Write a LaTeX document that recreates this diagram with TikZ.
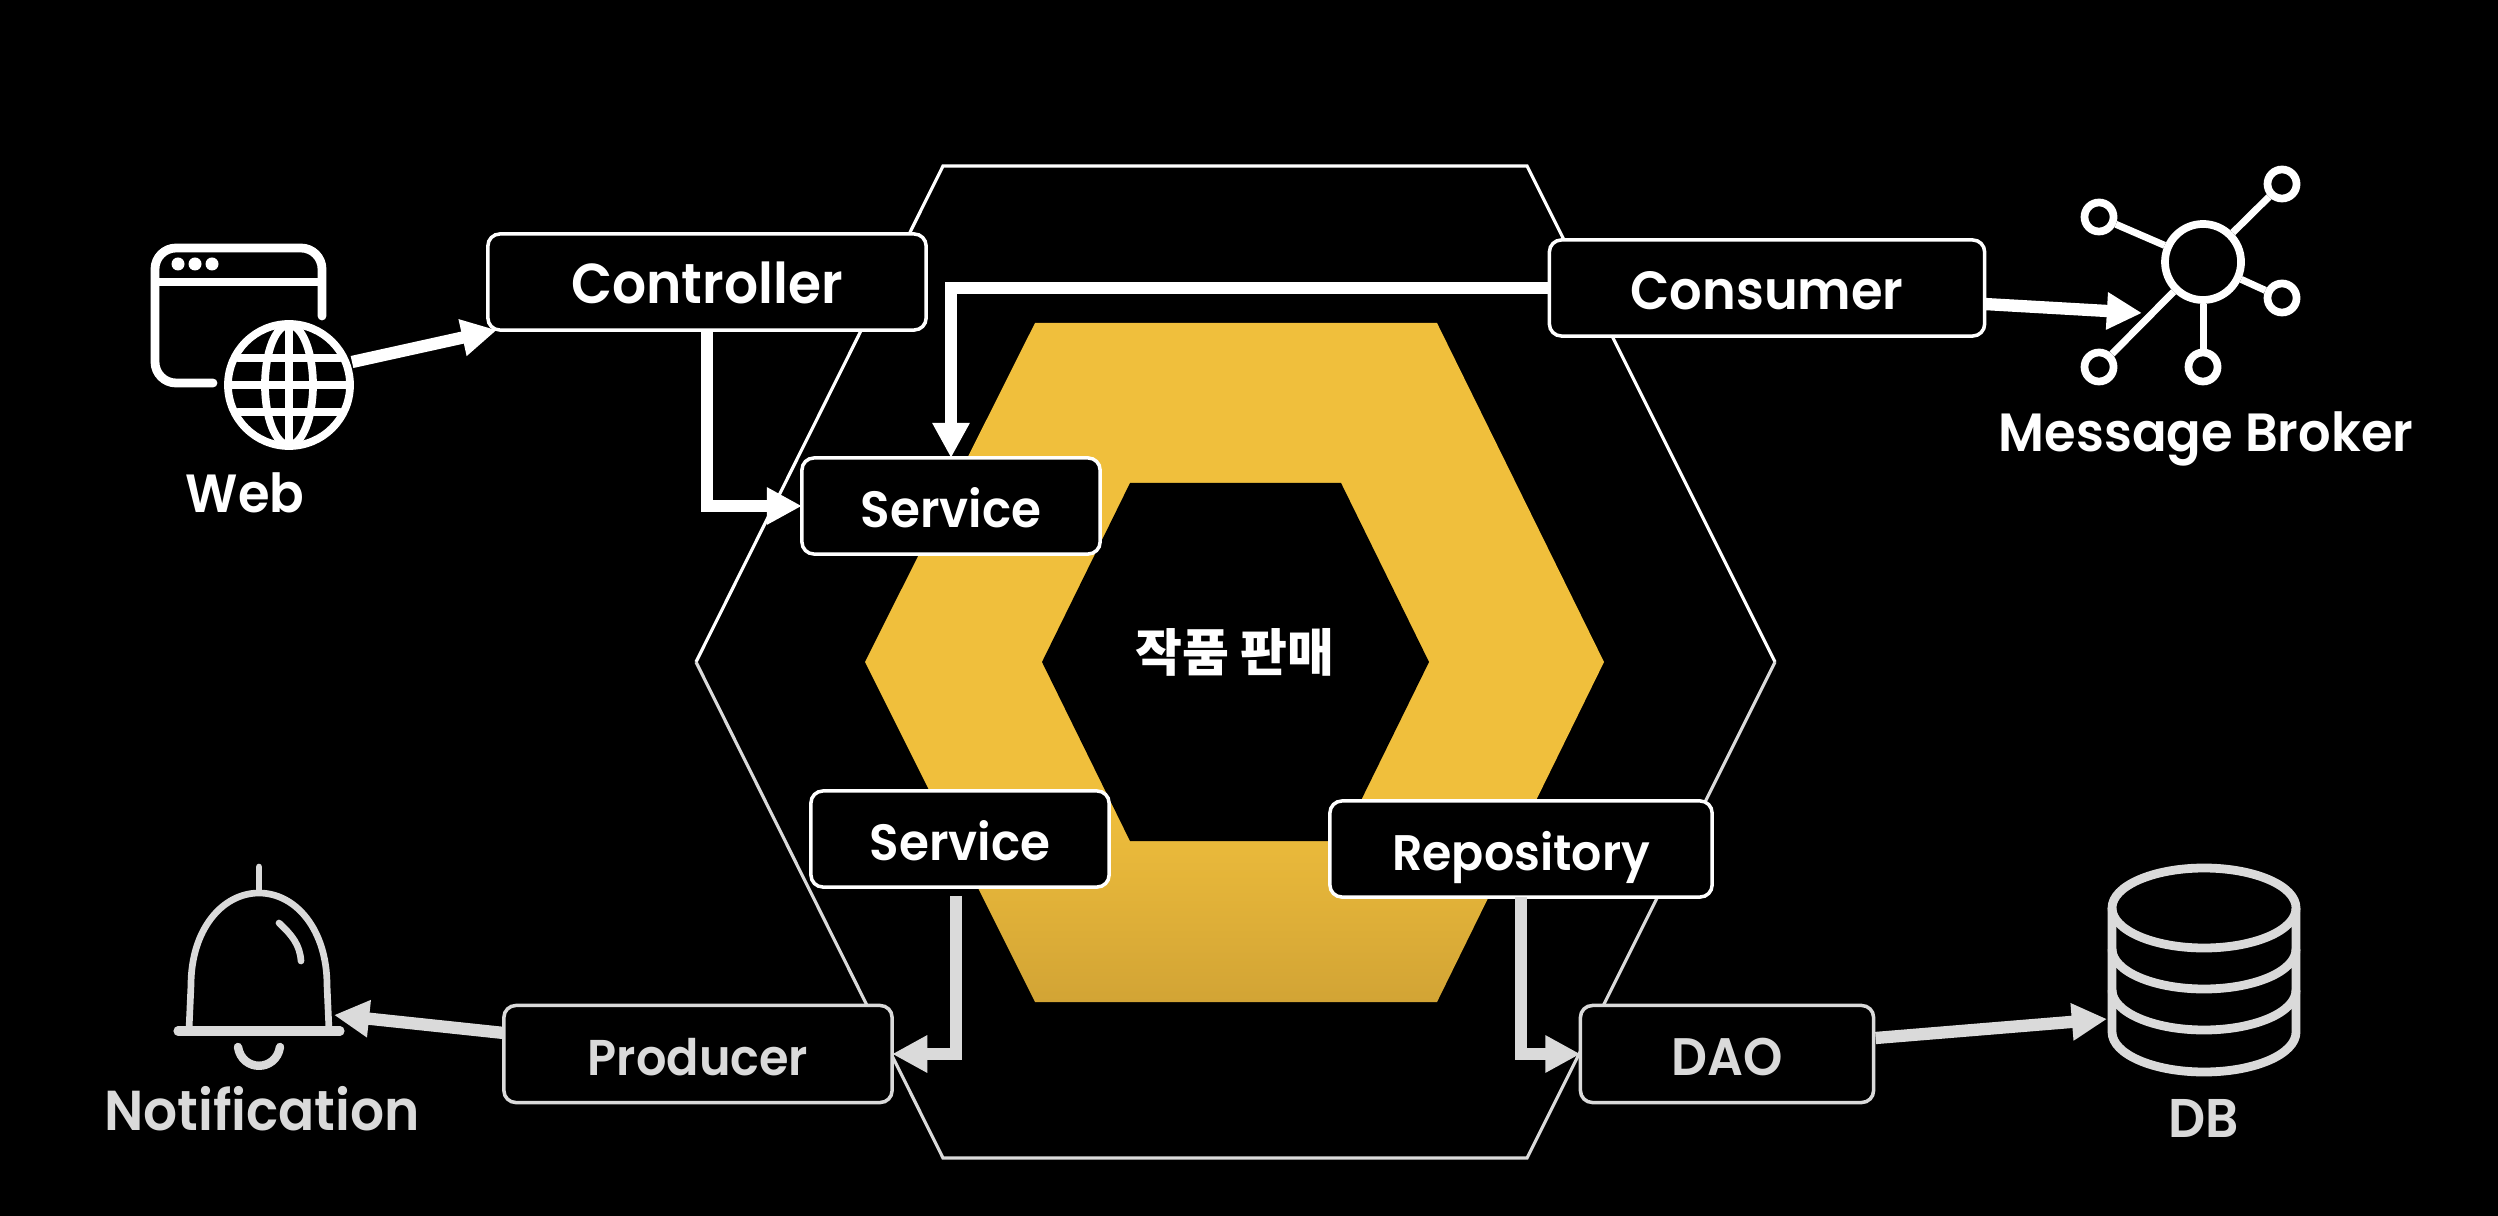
\documentclass[tikz,border=0pt]{standalone}
\usepackage{fontspec}
\usetikzlibrary{arrows.meta,calc}
\setmainfont{Poppins SemiBold}[FakeStretch=0.95]
\newfontfamily\krfont{Noto Sans CJK KR}
\definecolor{hexyellow}{HTML}{F0BF3C}
\definecolor{hexlow}{HTML}{D2A435}
\definecolor{fadegray}{HTML}{DADADA}
\pgfdeclareverticalshading{hexfade}{100bp}{color(0bp)=(hexlow); color(25bp)=(hexlow); color(40bp)=(hexyellow); color(100bp)=(hexyellow)}
\begin{document}
\begin{tikzpicture}[x=0.01cm,y=-0.01cm]
        \tikzstyle{layer}=[rounded corners=3.4pt,draw=white,fill=black,line width=1pt,text=white,inner sep=0pt,outer sep=0pt,text height=4.8mm,text depth=0.5mm]
        \tikzstyle{faded}=[layer,draw=fadegray,text=fadegray]
        \tikzstyle{caption}=[text=white,inner sep=0pt,text height=4.8mm,text depth=0.5mm]
        \tikzstyle{icon}=[draw=white,line width=2.5pt,line cap=round]
        \tikzstyle{flow}=[draw=white,line width=3.5pt,-{Triangle[length=10pt,width=10pt]}]
        \tikzstyle{outline}=[line width=0.9pt]
        \fill[black] (0,0) rectangle (2498,1216);
        \useasboundingbox (0,0) rectangle (2498,1216);

        \shade[shading=hexfade] (1035,323) -- (1437,323) -- (1604,662) -- (1437,1002) -- (1035,1002) -- (865,662) -- cycle;
        \fill[black] (1130,483) -- (1341,483) -- (1429,662) -- (1341,841) -- (1130,841) -- (1042,662) -- cycle;
        \draw[outline,white,line join=miter] (696,662) -- (943,166) -- (1527,166) -- (1775,662);
        \draw[outline,fadegray,line join=miter] (696,662) -- (943,1158) -- (1527,1158) -- (1775,662);

        \node [inner sep=0pt,text=white,font=\krfont\bfseries\fontsize{14.5}{18}\selectfont] (core) at (1235,652) {작품 판매};

        \node [layer,minimum width=4.38cm,minimum height=0.96cm,font=\fontsize{16}{18}\selectfont] (controller) at (707,282) {Controller};
        \node [layer,minimum width=4.35cm,minimum height=0.96cm,font=\fontsize{15.3}{18}\selectfont] (consumer) at (1767,288) {Consumer};
        \node [layer,minimum width=2.98cm,minimum height=0.96cm,font=\fontsize{14.5}{16}\selectfont] (serviceup) at (951,506) {Service};
        \node [layer,minimum width=2.98cm,minimum height=0.96cm,font=\fontsize{14.5}{16}\selectfont] (servicedown) at (960,839) {Service};
        \node [layer,minimum width=3.82cm,minimum height=0.96cm,font=\fontsize{14.2}{16}\selectfont] (repository) at (1521,849) {Repository};
        \node [faded,minimum width=3.88cm,minimum height=0.97cm,font=\fontsize{14.3}{16}\selectfont] (producer) at (698,1054) {Producer};
        \node [faded,minimum width=2.93cm,minimum height=0.97cm,font=\fontsize{15}{16}\selectfont] (dao) at (1727,1054) {DAO};

        \node [caption,font=\fontsize{15.3}{18}\selectfont] (web) at (245,491) {Web};
        \node [caption,font=\fontsize{15.3}{18}\selectfont] (broker) at (2206,430) {Message Broker};
        \node [caption,text=fadegray,font=\fontsize{16}{18}\selectfont] (notification) at (262,1109) {Notification};
        \node [caption,text=fadegray,font=\fontsize{15.5}{18}\selectfont] (db) at (2204,1116) {DB};

        \draw[icon,rounded corners=6pt] (322,316) -- (322,248) -- (155,248) -- (155,383) -- (213,383);
        \draw[icon,line width=2.2pt] (155,282) -- (322,282);
        \fill[white] (178,264) circle (6.5) (195,264) circle (6.5) (212,264) circle (6.5);
        \node [circle,draw=white,fill=black,line width=2.2pt,minimum size=1.22cm,inner sep=0pt] (globe) at (289,385) {};
        \draw[icon,line width=2.2pt] (289,385) ellipse (24 and 60);
        \draw[icon,line width=2.2pt] (289,326) -- (289,444) (231,385) -- (347,385) (238,358) -- (340,358) (238,412) -- (340,412);

        \node [circle,draw=white,line width=2.2pt,minimum size=0.76cm,inner sep=0pt] (hub) at (2203,262) {};
        \node [circle,draw=white,line width=2.2pt,minimum size=0.29cm,inner sep=0pt] (leafa) at (2282,184) {};
        \node [circle,draw=white,line width=2.2pt,minimum size=0.29cm,inner sep=0pt] (leafb) at (2099,217) {};
        \node [circle,draw=white,line width=2.2pt,minimum size=0.29cm,inner sep=0pt] (leafc) at (2282,298) {};
        \node [circle,draw=white,line width=2.2pt,minimum size=0.29cm,inner sep=0pt] (leafd) at (2099,367) {};
        \node [circle,draw=white,line width=2.2pt,minimum size=0.29cm,inner sep=0pt] (leafe) at (2203,367) {};
        \draw[white,line width=2pt] (hub) -- (leafa);
        \draw[white,line width=2pt] (hub) -- (leafb);
        \draw[white,line width=2pt] (hub) -- (leafc);
        \draw[white,line width=2pt] (hub) -- (leafd);
        \draw[white,line width=2pt] (hub) -- (leafe);

        \draw[icon,draw=fadegray,line width=1.9pt] (259,867) -- (259,891);
        \draw[icon,draw=fadegray,line width=1.9pt] (189,1030) -- (191,985) .. controls (191,930) and (222,893) .. (259,893) .. controls (296,893) and (327,930) .. (327,985) -- (329,1030);
        \draw[icon,draw=fadegray,line width=2.6pt] (178,1031) -- (340,1031);
        \draw[icon,draw=fadegray,line width=1.9pt] (279,923) .. controls (292,935) and (300,945) .. (301,961);
        \draw[icon,draw=fadegray,line width=2.4pt] (238,1047) .. controls (242,1072) and (276,1072) .. (280,1047);

        \draw[icon,draw=fadegray,line width=2.5pt,line cap=butt] (2204,908) ellipse (92 and 40);
        \draw[icon,draw=fadegray,line width=2.5pt,line cap=butt] (2112,908) -- (2112,1032) arc (180:0:92 and 40) -- (2296,908);
        \draw[icon,draw=fadegray,line width=2.5pt,line cap=butt] (2112,949) arc (180:0:92 and 40);
        \draw[icon,draw=fadegray,line width=2.5pt,line cap=butt] (2112,990) arc (180:0:92 and 40);

        \coordinate (globeout) at (352,362);
        \coordinate (webtip) at ($(controller.south west)+(9,0)$);
        \coordinate (brokerout) at ($(consumer.east)+(0,16)$);
        \coordinate (brokertip) at (2142,313);
        \coordinate (bellout) at ($(producer.west)+(0,-21)$);
        \coordinate (belltip) at (334,1015);
        \coordinate (dbout) at ($(dao.east)+(2,-16)$);
        \coordinate (dbtip) at (2107,1019);
        \coordinate (servicedownout) at ($(servicedown.south)+(-4,9)$);

        \path[flow] (globeout) -- (webtip);
        \path[flow] (controller.south) |- (serviceup.west);
        \path[flow] (consumer.west) -| (serviceup.north);
        \path[flow] (brokerout) -- (brokertip);
        \path[flow,draw=fadegray] (servicedownout) |- (producer.east);
        \path[flow,draw=fadegray] (bellout) -- (belltip);
        \path[flow,draw=fadegray] (repository.south) |- (dao.west);
        \path[flow,draw=fadegray] (dbout) -- (dbtip);
\end{tikzpicture}
\end{document}
